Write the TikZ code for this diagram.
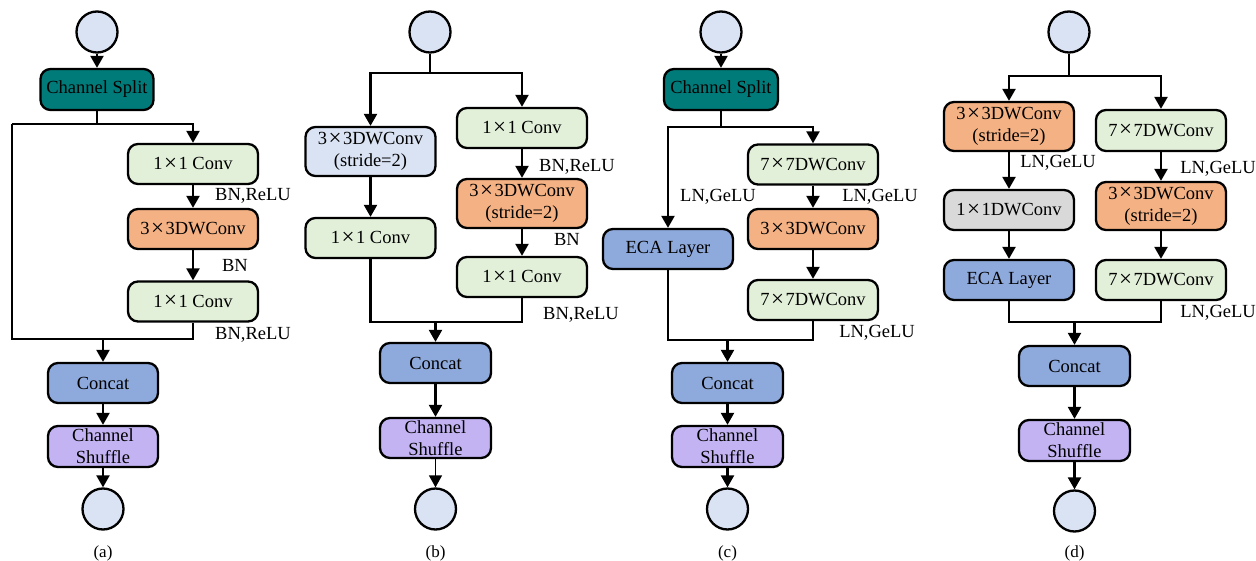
\documentclass[tikz,border=0pt]{standalone}
\usepackage{fontspec}
\setmainfont{Liberation Serif}
\usetikzlibrary{arrows.meta}
\definecolor{cteal}{HTML}{007B79}
\definecolor{cgreen}{HTML}{E2F0D9}
\definecolor{corange}{HTML}{F4B183}
\definecolor{clav}{HTML}{DAE3F3}
\definecolor{cblue}{HTML}{8EA9DB}
\definecolor{cpurple}{HTML}{C3B3F3}
\definecolor{cgrey}{HTML}{D9D9D9}
\newcommand{\tms}{\kern1.5pt{\fontsize{23}{21}\selectfont\raisebox{-0.5pt}{×}}\kern1.5pt}
\tikzset{
  base/.style={draw=black, line width=2.3pt, rounded corners=10pt, align=center, inner sep=0pt, font=\fontsize{18.5}{22}\selectfont},
  wbox/.style={base, minimum width=130pt, minimum height=40pt},
  tbox/.style={base, minimum width=130pt, minimum height=49pt},
  sbox/.style={base, minimum width=112pt, minimum height=41pt},
  circ/.style={circle, draw=black, line width=2.3pt, fill=clav, minimum size=41pt, inner sep=0pt},
  lbl/.style={font=\fontsize{18.5}{22}\selectfont, inner sep=0pt},
  figcap/.style={font=\fontsize{17}{18}\selectfont, inner sep=0pt},
  conn/.style={line width=2.3pt},
  arr/.style={line width=2.3pt, -{Triangle[length=12pt,width=13pt]}},
}
\begin{document}
\begin{tikzpicture}[x=1pt,y=-1pt]
\useasboundingbox (0,0) rectangle (1256,561);
% ---------------- (a)
\node[circ] (a0) at (97,32) {};
\node[sbox, fill=cteal, minimum width=113pt] (acs) at (97,89.5) {Channel Split};
\node[wbox, fill=cgreen] (ac1) at (193,164) {1\tms1 Conv};
\node[wbox, fill=corange] (adw) at (193,229) {3\tms3DWConv};
\node[wbox, fill=cgreen] (ac2) at (193,301.5) {1\tms1 Conv};
\node[sbox, fill=cblue, minimum width=110pt, minimum height=40pt] (acat) at (103,383) {Concat};
\node[sbox, fill=cpurple, minimum width=110pt] (ash) at (103,446.5) {Channel\\Shuffle};
\node[circ] (a9) at (103,509) {};
\node[lbl] (al1) at (253,196) {BN,ReLU};
\node[lbl] (al2) at (235,265) {BN};
\node[lbl] (al3) at (253,335) {BN,ReLU};
\node[figcap] (acap) at (103,553) {(a)};
\coordinate (aL) at (12,124);
\coordinate (aB) at (12,339);
\draw[arr] (a0) -- (acs);
\draw[conn] (acs.south) -- (acs.south |- aL);
\draw[arr] (aL) -- (ac1.north |- aL) -- (ac1.north);
\draw[arr] (ac1) -- (adw);
\draw[arr] (adw) -- (ac2);
\draw[conn] (aL) -- (aB) -- (ac2.south |- aB) -- (ac2.south);
\draw[arr] (acat.north |- aB) -- (acat.north);
\draw[arr] (acat) -- (ash);
\draw[arr] (ash) -- (a9);
% ---------------- (b)
\node[circ] (b0) at (430,32) {};
\node[tbox, fill=clav] (bL1) at (370.5,151.5) {3\tms3DWConv\\(stride=2)};
\node[wbox, fill=cgreen] (bL2) at (370.5,238) {1\tms1 Conv};
\node[wbox, fill=cgreen] (bR1) at (522,128) {1\tms1 Conv};
\node[tbox, fill=corange] (bR2) at (522,203.5) {3\tms3DWConv\\(stride=2)};
\node[wbox, fill=cgreen] (bR3) at (522,277) {1\tms1 Conv};
\node[sbox, fill=cblue, minimum width=111pt, minimum height=40pt] (bcat) at (435.5,363) {Concat};
\node[sbox, fill=cpurple, minimum width=111pt, minimum height=40pt] (bsh) at (435.5,438) {Channel\\Shuffle};
\node[circ] (b9) at (435.5,509) {};
\node[lbl] (bl1) at (577,167) {BN,ReLU};
\node[lbl] (bl2) at (567,239) {BN};
\node[lbl] (bl3) at (581,315) {BN,ReLU};
\node[figcap] (bcap) at (435.5,553) {(b)};
\coordinate (bj) at (430,73);
\coordinate (bk) at (435.5,322);
\draw[conn] (b0) -- (bj);
\draw[arr] (bj) -| (bL1.north);
\draw[arr] (bj) -| (bR1.north);
\draw[arr] (bL1) -- (bL2);
\draw[arr] (bR1) -- (bR2);
\draw[arr] (bR2) -- (bR3);
\draw[conn] (bL2.south) |- (bk) -| (bR3.south);
\draw[arr] (bk) -- (bcat.north);
\draw[arr] (bcat) -- (bsh);
\draw[-{Triangle[length=12pt,width=13pt]}, line width=1.5pt] (bsh) -- (b9);
% ---------------- (c)
\node[circ] (c0) at (721,32) {};
\node[sbox, fill=cteal, minimum width=114pt] (ccs) at (721,89.5) {Channel Split};
\node[wbox, fill=cblue] (ceca) at (668,249) {ECA Layer};
\node[wbox, fill=cgreen] (c1) at (813,164.5) {7\tms7DWConv};
\node[wbox, fill=corange] (c2) at (813,229) {3\tms3DWConv};
\node[wbox, fill=cgreen] (c3) at (813,300) {7\tms7DWConv};
\node[sbox, fill=cblue, minimum width=111pt, minimum height=40pt] (ccat) at (727.5,383) {Concat};
\node[sbox, fill=cpurple, minimum width=111pt] (csh) at (727.5,446.5) {Channel\\Shuffle};
\node[circ] (c9) at (727.5,509) {};
\node[lbl] (cl1) at (718,197) {LN,GeLU};
\node[lbl] (cl2) at (880,197) {LN,GeLU};
\node[lbl] (cl3) at (877,333) {LN,GeLU};
\node[figcap] (ccap) at (727.5,553) {(c)};
\coordinate (cj) at (721,127);
\coordinate (ck) at (727.5,340);
\draw[arr] (c0) -- (ccs);
\draw[conn] (ccs) -- (cj);
\draw[arr] (cj) -| (ceca.north);
\draw[arr] (cj) -| (c1.north);
\draw[arr] (c1) -- (c2);
\draw[arr] (c2) -- (c3);
\draw[conn] (ceca.south) |- (ck) -| (c3.south);
\draw[arr] (ck) -- (ccat.north);
\draw[arr] (ccat) -- (csh);
\draw[arr] (csh) -- (c9);
% ---------------- (d)
\node[circ] (d0) at (1069,32) {};
\node[tbox, fill=corange] (dL1) at (1009,126.5) {3\tms3DWConv\\(stride=2)};
\node[wbox, fill=cgrey] (dL2) at (1009,210) {1\tms1DWConv};
\node[wbox, fill=cblue] (dL3) at (1009,280) {ECA Layer};
\node[wbox, fill=cgreen, minimum height=41pt] (dR1) at (1161,130.5) {7\tms7DWConv};
\node[tbox, fill=corange, minimum height=48pt] (dR2) at (1161,206) {3\tms3DWConv\\(stride=2)};
\node[wbox, fill=cgreen] (dR3) at (1161,280) {7\tms7DWConv};
\node[sbox, fill=cblue, minimum width=111pt, minimum height=40pt] (dcat) at (1074.5,366) {Concat};
\node[sbox, fill=cpurple, minimum width=111pt] (dsh) at (1074.5,440.5) {Channel\\Shuffle};
\node[circ] (d9) at (1074.5,511) {};
\node[lbl] (dl1) at (1058,163) {LN,GeLU};
\node[lbl] (dl2) at (1218,169) {LN,GeLU};
\node[lbl] (dl3) at (1218,313) {LN,GeLU};
\node[figcap] (dcap) at (1074.5,553) {(d)};
\coordinate (dj) at (1069,76);
\coordinate (dk) at (1074.5,322);
\draw[conn] (d0) -- (dj);
\draw[arr] (dj) -| (dL1.north);
\draw[arr] (dj) -| (dR1.north);
\draw[arr] (dL1) -- (dL2);
\draw[arr] (dL2) -- (dL3);
\draw[arr] (dR1) -- (dR2);
\draw[arr] (dR2) -- (dR3);
\draw[conn] (dL3.south) |- (dk) -| (dR3.south);
\draw[arr] (dk) -- (dcat.north);
\draw[arr] (dcat) -- (dsh);
\draw[arr] (dsh) -- (d9);
\end{tikzpicture}
\end{document}
